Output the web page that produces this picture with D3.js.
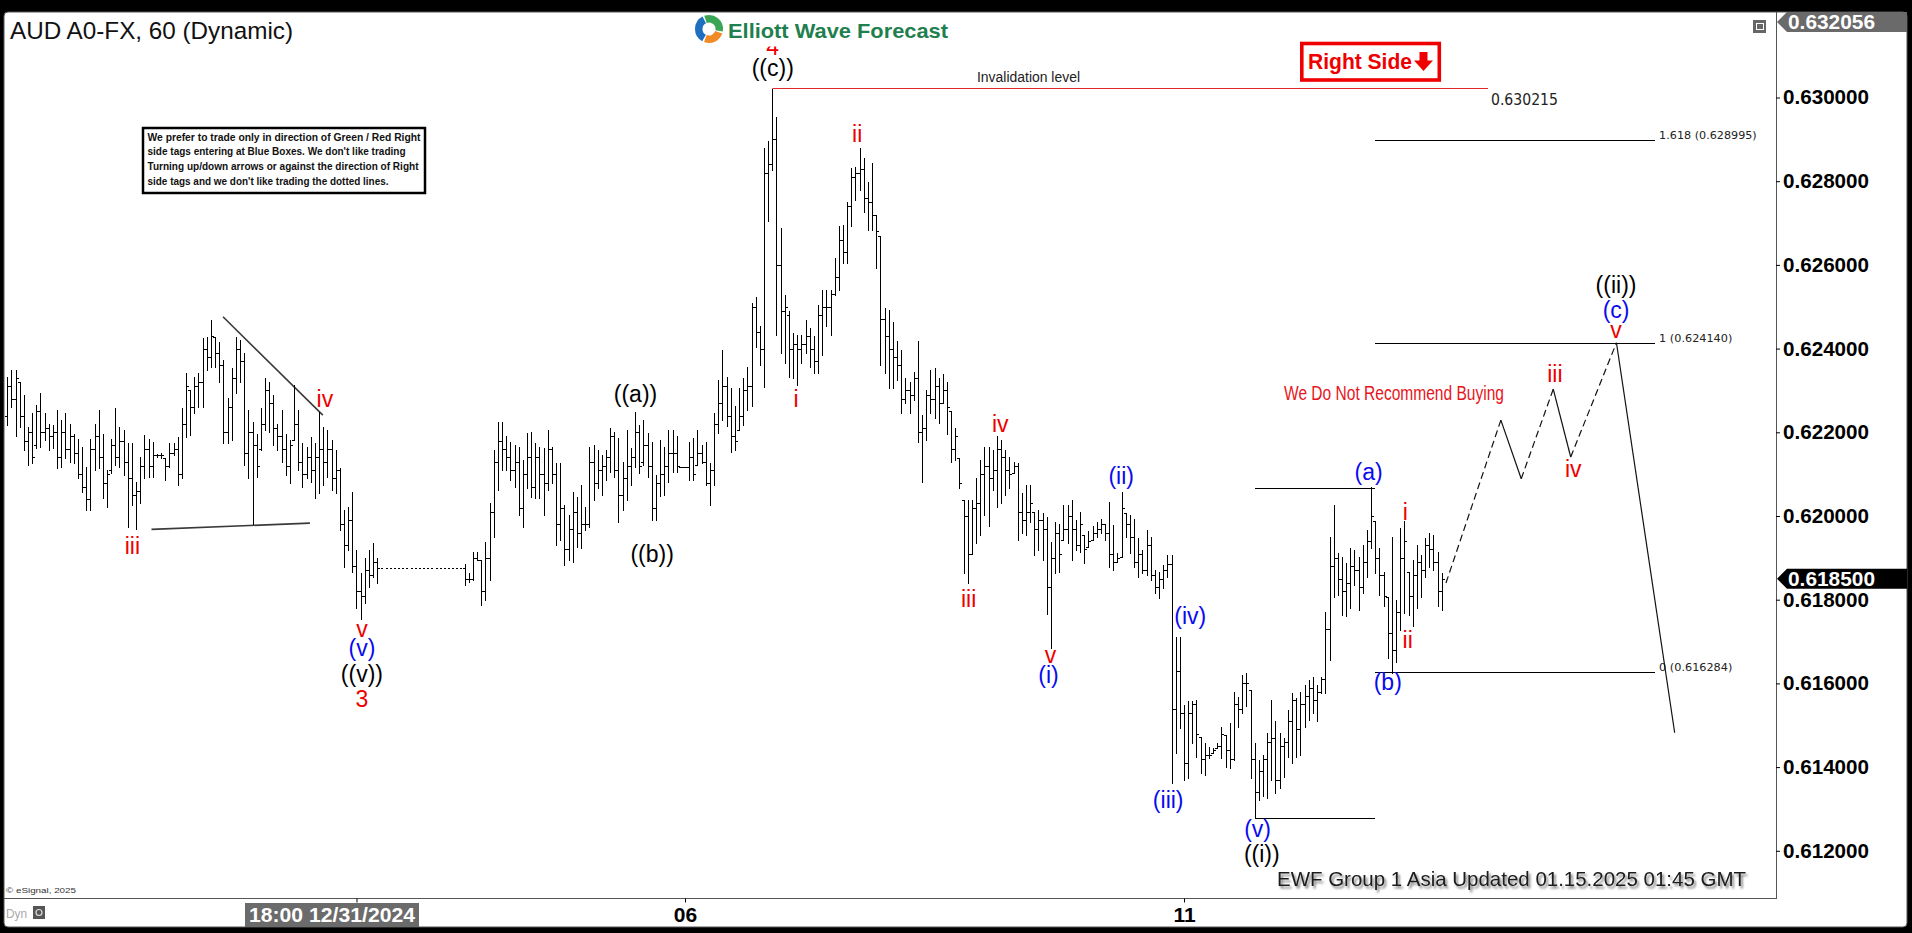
<!DOCTYPE html>
<html><head><meta charset="utf-8">
<script src="https://cdn.jsdelivr.net/npm/d3@7"></script>
<style>
html,body{margin:0;padding:0;background:#000;overflow:hidden}
svg{display:block}
text{font-family:"Liberation Sans",Arial,sans-serif}
</style></head><body>
<svg id="chart" width="1912" height="933"></svg>
<script>
// ---------------- DATA (prices in pips: price x 10000) ----------------
const highs = [
6233.2,6234.8,6234.9,6232.1,6228.9,6221.3,6224.5,6226.5,6229.3,6224.5,
6222.1,6221.7,6225.3,6222.9,6224.5,6222.1,6219.7,6218.5,6216.6,6211.8,
6218.5,6222.1,6225.3,6219.7,6211.0,6218.5,6225.7,6221.3,6220.5,6217.4,
6217.4,6208.2,6214.2,6219.3,6218.5,6217.8,6214.8,6215.0,6213.8,6217.4,
6217.4,6218.9,6225.7,6234.1,6230.1,6233.3,6234.1,6242.5,6242.8,6246.8,
6242.8,6241.6,6237.3,6228.1,6235.3,6242.8,6242.0,6238.9,6225.3,6222.5,
6219.7,6225.7,6232.9,6232.1,6228.9,6222.1,6225.3,6219.7,6218.1,6231.3,
6225.3,6217.4,6216.6,6218.9,6217.4,6224.9,6221.3,6220.5,6218.1,6215.8,
6211.4,6201.4,6202.2,6205.8,6191.9,6186.3,6189.9,6191.9,6193.5,6189.9,
6187.5,6187.5,6187.5,6187.5,6187.5,6187.5,6187.5,6187.5,6187.5,6187.5,
6187.5,6187.5,6187.5,6187.5,6187.5,6187.5,6187.5,6187.5,6187.5,6187.5,
6188.6,6186.3,6191.5,6191.5,6189.5,6193.9,6203.0,6215.8,6222.5,6222.5,
6219.1,6217.8,6217.0,6216.6,6213.4,6219.8,6220.1,6217.4,6216.6,6216.2,
6220.5,6216.6,6212.6,6212.6,6202.6,6200.2,6205.8,6204.6,6207.4,6202.2,
6216.6,6217.0,6215.8,6214.6,6215.8,6221.0,6220.1,6218.6,6213.0,6220.5,
6216.2,6224.9,6221.7,6223.0,6219.8,6217.8,6209.8,6218.2,6216.6,6220.6,
6220.6,6219.0,6211.8,6211.8,6217.8,6218.6,6220.6,6217.0,6217.8,6212.6,
6224.6,6232.5,6239.7,6233.3,6230.5,6226.2,6230.5,6232.9,6235.7,6250.9,
6252.4,6245.3,6287.9,6289.5,6302.0,6295.4,6268.8,6252.8,6248.9,6243.7,
6243.3,6243.3,6246.9,6244.9,6242.9,6250.4,6254.0,6254.0,6254.0,6261.6,
6269.2,6269.6,6275.1,6283.1,6283.5,6287.9,6285.5,6279.9,6284.3,6271.9,
6266.8,6249.6,6249.2,6246.4,6241.7,6239.7,6232.9,6232.1,6234.5,6241.7,
6224.2,6230.1,6234.9,6235.3,6232.9,6234.0,6232.0,6225.0,6221.0,6213.8,
6203.8,6203.8,6203.8,6209.0,6213.4,6216.6,6216.6,6215.8,6219.0,6218.2,
6215.8,6214.2,6213.0,6212.6,6205.4,6207.4,6207.4,6201.0,6201.4,6200.6,
6199.8,6193.9,6198.6,6198.2,6202.6,6202.6,6203.8,6199.0,6201.0,6195.5,
6196.3,6197.5,6198.6,6199.4,6198.2,6203.4,6197.9,6191.1,6205.8,6200.6,
6200.2,6199.4,6194.7,6191.9,6196.7,6195.1,6187.1,6186.7,6188.3,6190.7,
6190.7,6171.2,6171.2,6154.9,6155.7,6155.7,6156.1,6147.3,6145.7,6144.9,
6144.5,6145.7,6149.7,6147.7,6150.5,6158.0,6156.8,6162.0,6162.4,6158.4,
6145.7,6141.7,6142.9,6148.1,6156.0,6150.9,6148.1,6146.9,6153.7,6157.6,
6156.4,6158.0,6159.6,6160.8,6161.6,6159.6,6161.6,6177.1,6195.1,6202.6,
6191.1,6190.3,6188.7,6192.3,6191.9,6190.3,6193.1,6196.7,6207.0,6198.7,
6192.3,6186.7,6180.7,6195.1,6179.9,6197.1,6198.7,6186.7,6189.5,6193.1,
6190.7,6194.7,6195.9,6195.5,6191.5,6186.3];

const lows = [
6221.7,6226.1,6219.0,6221.3,6215.8,6212.2,6212.6,6216.2,6216.6,6218.2,
6215.8,6216.2,6211.4,6211.8,6213.8,6212.9,6212.6,6209.0,6205.8,6201.4,
6201.4,6211.0,6211.4,6204.2,6202.2,6210.2,6212.2,6211.8,6209.8,6197.4,
6202.6,6197.0,6203.0,6209.0,6209.4,6209.4,6214.0,6213.8,6208.6,6211.8,
6214.6,6207.4,6209.0,6218.9,6219.3,6224.5,6226.1,6226.1,6234.9,6235.7,
6235.7,6232.1,6217.4,6217.4,6218.1,6229.3,6232.1,6212.2,6209.0,6198.2,
6209.4,6215.8,6220.5,6220.1,6216.9,6215.8,6213.0,6209.8,6207.8,6218.1,
6211.0,6207.0,6209.0,6208.2,6204.2,6205.4,6207.4,6209.4,6206.2,6205.4,
6196.6,6187.9,6191.9,6186.7,6177.9,6175.5,6179.1,6183.1,6185.5,6183.9,
6187.5,6187.5,6187.5,6187.5,6187.5,6187.5,6187.5,6187.5,6187.5,6187.5,
6187.5,6187.5,6187.5,6187.5,6187.5,6187.5,6187.5,6187.5,6187.5,6187.5,
6183.5,6184.3,6184.7,6189.5,6178.7,6180.0,6184.7,6195.1,6206.2,6211.0,
6211.0,6208.6,6207.0,6200.2,6197.4,6206.6,6204.6,6204.2,6204.2,6200.2,
6206.2,6207.8,6193.1,6194.3,6188.3,6189.5,6189.1,6192.7,6192.3,6196.6,
6197.4,6203.8,6206.6,6205.0,6208.6,6210.6,6209.4,6198.6,6201.4,6203.8,
6207.4,6211.8,6210.2,6212.2,6209.4,6199.1,6199.1,6204.7,6205.1,6208.2,
6210.6,6210.6,6211.7,6211.7,6208.6,6208.6,6212.2,6212.6,6207.4,6202.7,
6207.4,6219.8,6223.0,6221.4,6215.4,6215.8,6220.6,6221.8,6225.4,6226.2,
6240.5,6236.1,6230.9,6270.4,6282.7,6243.3,6238.9,6236.5,6233.3,6232.9,
6231.3,6236.5,6238.9,6235.7,6234.1,6234.1,6238.5,6245.3,6243.3,6252.8,
6254.0,6260.4,6260.4,6269.2,6275.5,6277.9,6272.7,6268.4,6268.4,6259.2,
6236.1,6234.1,6230.5,6230.5,6232.5,6224.6,6227.0,6224.6,6227.8,6217.8,
6208.2,6218.2,6224.6,6223.4,6222.2,6227.0,6219.5,6213.0,6213.4,6206.6,
6186.3,6183.9,6191.1,6193.5,6195.5,6200.2,6197.5,6206.2,6202.2,6203.0,
6205.0,6206.6,6210.2,6194.3,6195.9,6195.5,6198.6,6190.7,6191.9,6189.5,
6176.7,6168.4,6186.3,6186.7,6194.3,6193.5,6189.5,6191.9,6191.5,6188.7,
6192.7,6194.3,6195.1,6195.9,6194.3,6187.9,6187.1,6189.1,6190.3,6195.1,
6191.1,6187.9,6185.5,6186.3,6185.9,6184.7,6181.5,6180.3,6182.7,6185.5,
6136.1,6143.3,6149.3,6136.9,6137.3,6145.7,6142.5,6138.5,6138.1,6142.1,
6143.3,6144.5,6142.1,6140.1,6139.7,6141.7,6149.7,6152.9,6154.5,6137.3,
6127.8,6132.2,6133.0,6132.6,6136.9,6133.8,6134.9,6137.7,6142.5,6140.9,
6142.5,6142.9,6149.7,6151.3,6152.9,6150.9,6157.6,6157.6,6165.6,6180.7,
6181.1,6176.4,6176.0,6178.0,6183.5,6177.6,6181.5,6185.5,6192.3,6186.3,
6181.1,6178.4,6166.0,6162.6,6165.2,6172.8,6176.8,6176.4,6173.6,6178.0,
6180.7,6185.5,6187.9,6187.1,6178.4,6177.6];

const opens = [
6224,6231,6228,6232,6224,6218,6220,6217,6225,6220,
6221,6219,6220,6214,6220,6216,6219,6215,6210,6207,
6204,6216,6219,6214,6208,6211,6217,6214,6218,6213,
6209,6205,6206,6212,6216,6212,6214.5,6214.5,6213.8,6212,
6215,6216,6210,6222,6230,6226,6231,6232,6240,6238,
6242.8,6239,6236,6220,6226,6233,6240,6237,6215,6220,
6217,6216,6222,6230,6227,6221,6219,6216,6212,6218.1,
6222,6213,6210,6214,6211,6214,6216,6213,6216,6209,
6211,6198,6193,6199,6188,6182,6181,6187,6186,6189,
6187.5,6187.5,6187.5,6187.5,6187.5,6187.5,6187.5,6187.5,6187.5,6187.5,
6187.5,6187.5,6187.5,6187.5,6187.5,6187.5,6187.5,6187.5,6187.5,6187.5,
6187.5,6185,6185,6190,6189.5,6182,6190,6201,6213,6218,
6216,6214,6211,6213,6202,6210,6214,6207,6214,6210,
6208,6216,6210,6198,6202,6192,6197,6201,6196,6198,
6198,6213,6208,6211,6212,6214,6219,6211,6205,6209,
6212,6214,6220,6213,6217,6212,6202,6208,6210,6212,
6215,6215,6211.8,6211.8,6211.8,6214,6212.2,6215,6213,6208,
6211,6222,6227,6231,6224,6219,6220.6,6224,6230,6231,
6250,6244,6240,6282,6284,6290,6260,6249,6248,6240,
6241,6240,6241,6243,6240,6237,6248,6250,6250,6253,
6257,6266,6263,6274,6281,6282,6283,6276,6275,6271.9,
6266.8,6247,6243,6240,6238,6236,6228,6230,6229,6233,
6220,6221,6229,6228,6231,6227,6230,6225,6216,6213.8,
6203.8,6200,6191,6202,6203,6210,6212,6209,6211,6216,
6214,6211,6210.2,6212,6201,6199,6201,6201,6197,6199,
6197,6183,6190,6196,6194.3,6197,6200,6197,6193,6195.5,
6192.7,6194.3,6196,6197,6198,6196,6191,6189.1,6190.3,6200.6,
6198,6195,6189,6191,6187,6193,6186,6183,6185,6187,
6188.5,6154,6163,6153,6141,6153,6155,6147.3,6142,6143,
6143.3,6144.5,6145,6147.7,6144,6142,6155,6154,6160,6158.4,
6142,6134,6139,6142,6146,6147,6137,6145,6146,6151,
6156,6149,6155,6157,6159,6156,6158,6161,6173,6188,
6190,6185,6182,6184,6188,6187,6183,6189,6194,6198.7,
6190,6186,6180.7,6172,6168,6177,6190,6186.7,6181,6186,
6189,6187,6193,6192,6189,6182];

const closes = [
6231,6228,6233,6224,6218,6220,6214,6225,6220,6221,
6219,6220,6214,6220,6216,6219,6215,6210,6207,6204,
6216,6219,6214,6208,6210,6217,6214,6218,6213,6209,
6205,6206,6212,6216,6212,6214.5,6214.5,6214.5,6212,6215,
6216,6210,6222,6231,6226,6231,6232,6240,6238,6243,
6239,6236,6220,6226,6233,6240,6237,6215,6220,6217,
6212,6222,6230,6227,6221,6219,6216,6212,6217,6222,
6213,6210,6214,6211,6214,6216,6213,6216,6209,6211,
6198,6193,6199,6188,6182,6181,6187,6186,6189,6187.5,
6187.5,6187.5,6187.5,6187.5,6187.5,6187.5,6187.5,6187.5,6187.5,6187.5,
6187.5,6187.5,6187.5,6187.5,6187.5,6187.5,6187.5,6187.5,6187.5,6187.5,
6185,6185,6190,6189.5,6182,6190,6201,6213,6218,6216,
6214,6211,6213,6202,6210,6214,6207,6214,6210,6208,
6216,6210,6198,6202,6192,6197,6201,6196,6198,6198,
6213,6208,6211,6212,6214,6219,6211,6205,6209,6212,
6214,6220,6212,6217,6212,6202,6208,6210,6212,6215,
6215,6212,6211.8,6211.8,6214,6210,6215,6213,6208,6211,
6222,6227,6231,6224,6219,6218,6224,6230,6231,6250,
6244,6240,6282,6284,6290,6260,6249,6250,6240,6241,
6240,6241,6243,6240,6237,6248,6250,6250,6253,6257,
6266,6263,6274,6281,6282,6283,6276,6275,6272,6268,
6247,6243,6240,6238,6236,6228,6230,6229,6233,6220,
6221,6229,6228,6231,6227,6230,6226,6216,6219,6208,
6200,6191,6202,6203,6210,6212,6209,6211,6216,6214,
6211,6210,6212,6201,6199,6201,6203,6197,6199,6197,
6183,6190,6196,6191,6197,6200,6197,6193,6198,6192,
6194,6196,6197,6198,6196,6191,6189,6190,6202,6198,
6195,6189,6191,6187,6193,6186,6183,6185,6187,6188.5,
6154,6163,6153,6141,6153,6155,6148,6142,6143,6143,
6144,6145,6148,6144,6142,6155,6154,6160,6160,6142,
6134,6139,6142,6146,6147,6137,6145,6146,6151,6156,
6149,6155,6157,6159,6156,6158,6161,6173,6188,6190,
6185,6182,6184,6188,6187,6183,6189,6194,6200,6190,
6186,6181,6172,6168,6177,6190,6194,6181,6186,6189,
6187,6193,6192,6189,6182,6185];

// axis ticks
const yTicks = [0.612,0.614,0.616,0.618,0.620,0.622,0.624,0.626,0.628,0.630];
const xTickIdx = [84,163,283];
const xTickText = ["18:00 12/31/2024","06","11"];
const lastPrice = 0.6185;
const topPrice = 0.632056;

// wave labels (bar index, price in pips)
const waveText  = ["iii","iv","v","(v)","((v))","3","((a))","((b))","4","((c))","i","ii","iii","iv","v","(i)","(ii)","(iii)","(iv)","(v)","((i))","(a)","i","ii","(b)","iii","iv","((ii))","(c)","v"];
const waveIdx   = [30.1,76.4,85.3,85.3,85.3,85.3,151.1,155.1,184.1,184.1,189.7,204.4,231.2,238.8,250.9,250.4,267.9,279.2,284.5,300.7,301.7,327.4,336.2,336.8,332.0,372.2,376.6,386.9,386.9,386.9];
const wavePip   = [6190.9,6226.0,6171.1,6166.5,6160.3,6154.4,6227.2,6189.0,6310.2,6305.1,6226.0,6289.4,6178.3,6220.1,6164.9,6160.1,6207.6,6130.2,6174.2,6123.4,6117.4,6208.6,6199.0,6168.5,6158.4,6232.0,6209.3,6253.2,6247.2,6242.5];
const waveDegree= ["sub","sub","sub","minuette","minute","minor","minute","minute","minor","minute","sub","sub","sub","sub","sub","minuette","minuette","minuette","minuette","minuette","minute","minuette","sub","sub","minuette","sub","sub","minute","minuette","sub"];

// projected path (bar index, price in pips)
const projIdx = [346,359.2,364.1,371.8,376.0,387.0,401.0];
const projPip = [6184,6222.9,6208.9,6230.3,6214.1,6241.4,6148.2];

// fibonacci extension levels
const fibRatio = ["1.618","1","0"];
const fibPrice = [0.628995,0.624140,0.616284];
const fibStartIdx = 329, fibEndIdx = 396.3;

// invalidation level
const invalPrice = 0.630215, invalStartIdx = 184, invalEndIdx = 356.1;

// (a) high and ((i)) low reference lines
const refLinePip = [6206.6, 6127.8];
const refStartIdx = 300, refEndIdx = 329;

// triangle trend lines [idx1, pip1, idx2, pip2]
const triUpper = [51.9,6247.6,75.9,6224.1];
const triLower = [34.7,6196.8,72.8,6198.3];

const noteLines = ["We prefer to trade only in direction of Green / Red Right",
  "side tags entering at Blue Boxes. We don't like trading",
  "Turning up/down arrows or against the direction of Right",
  "side tags and we don't like trading the dotted lines."];
const noteWidths = [273,258,271,241];

// ---------------- DRAWING ----------------
const svg = d3.select("#chart");
const plot = {left:4, top:12, right:1776, bottom:898};
const x = d3.scaleLinear().domain([0,283]).range([7.2,1184]);
const y = d3.scaleLinear().domain([0.612,0.630]).range([850.8,97.5]);
const P = v => y(v/10000);
const RED = "#ee0000", BLUE = "#0a0af0";
const degColor = {sub:RED, minor:RED, minuette:BLUE, minute:"#000"};

const defs = svg.append("defs");
defs.append("clipPath").attr("id","plotClip").append("rect")
  .attr("x",plot.left).attr("y",plot.top).attr("width",plot.right-plot.left).attr("height",plot.bottom-plot.top);
const f = defs.append("filter").attr("id","shadow").attr("x","-5%").attr("y","-30%").attr("width","110%").attr("height","170%");
f.append("feDropShadow").attr("dx",2).attr("dy",2.5).attr("stdDeviation",1.2).attr("flood-color","#555").attr("flood-opacity",0.75);

// frame
svg.append("rect").attr("width",1912).attr("height",933).attr("fill","#000");
svg.append("rect").attr("x",4).attr("y",12).attr("width",1903).attr("height",915).attr("rx",4)
  .attr("fill","#fff").attr("stroke","#555").attr("stroke-width",1);

function T(g, s, xx, yy, o){
  o = o || {};
  const t = g.append("text").attr("x",xx).attr("y",yy).text(s)
    .attr("font-size",o.size||14).attr("fill",o.fill||"#000")
    .attr("text-anchor",o.anchor||"start");
  if(o.weight) t.attr("font-weight",o.weight);
  if(o.family) t.style("font-family",o.family);
  if(o.len) t.attr("textLength",o.len).attr("lengthAdjust","spacingAndGlyphs");
  if(o.filter) t.attr("filter",o.filter);
  return t;
}

const gp = svg.append("g").attr("clip-path","url(#plotClip)");

// triangle lines
[triUpper,triLower].forEach(l=>{
  gp.append("line").attr("x1",x(l[0])).attr("y1",P(l[1])).attr("x2",x(l[2])).attr("y2",P(l[3]))
    .attr("stroke","#3a3a3a").attr("stroke-width",1.6);
});

// bars (flat holiday bars get short ticks -> dashed look)
const barPath = highs.map((h,i)=>{
  const xi = Math.round(x(i))+0.5;
  const yh = Math.round(P(h)), yl = Math.round(P(lows[i]));
  const yo = Math.round(P(opens[i]))+0.5, yc = Math.round(P(closes[i]))+0.5;
  const tk = (h === lows[i]) ? 1 : 2.5;
  const v = (h === lows[i]) ? "" : `M${xi},${yh}V${yl+1}`;
  return `${v}M${xi-tk},${yo}H${xi}M${xi},${yc}H${xi+tk}`;
}).join("");
gp.append("path").attr("d",barPath).attr("fill","none").attr("stroke","#000")
  .attr("stroke-width",1).attr("shape-rendering","crispEdges");

// invalidation line
gp.append("line").attr("x1",x(invalStartIdx)).attr("x2",x(invalEndIdx))
  .attr("y1",y(invalPrice)).attr("y2",y(invalPrice)).attr("stroke","#e02828").attr("stroke-width",1.2);
T(gp,"Invalidation level",977,82,{size:14,fill:"#222",len:103});
T(gp,d3.format(".6f")(invalPrice),x(invalEndIdx)+3,105,{size:15,fill:"#222",len:67,family:"'DejaVu Sans',sans-serif"});

// fib lines
fibPrice.forEach((p,k)=>{
  const yy = Math.round(y(p))+0.5;
  gp.append("line").attr("x1",x(fibStartIdx)).attr("x2",x(fibEndIdx)).attr("y1",yy).attr("y2",yy)
    .attr("stroke","#000").attr("stroke-width",1).attr("shape-rendering","crispEdges");
  const s = `${fibRatio[k]} (${d3.format(".6f")(p)})`;
  T(gp,s,x(fibEndIdx)+4,yy-1.5,{size:10.5,fill:"#222",len:s.length*6.1,family:"'DejaVu Sans',sans-serif"});
});

// reference lines (a) high / ((i)) low
refLinePip.forEach(p=>{
  const yy = Math.round(P(p))+0.5;
  gp.append("line").attr("x1",x(refStartIdx)).attr("x2",x(refEndIdx)).attr("y1",yy).attr("y2",yy)
    .attr("stroke","#000").attr("stroke-width",1).attr("shape-rendering","crispEdges");
});

// projected path
for(let k=0;k<projIdx.length-1;k++){
  const up = projPip[k+1] > projPip[k];
  gp.append("line").attr("x1",x(projIdx[k])).attr("y1",P(projPip[k]))
    .attr("x2",x(projIdx[k+1])).attr("y2",P(projPip[k+1]))
    .attr("stroke","#111").attr("stroke-width",1.2)
    .attr("stroke-dasharray", up ? "7,4" : null);
}

// wave labels
waveText.forEach((s,k)=>{
  T(gp,s,x(waveIdx[k]),P(wavePip[k]),{size:23,fill:degColor[waveDegree[k]],anchor:"middle"});
});

T(gp,"We Do Not Recommend Buying",1284,400,{size:20,fill:"#e8141c",len:220});

// note box
svg.append("rect").attr("x",143).attr("y",128).attr("width",282).attr("height",65)
  .attr("fill","#fff").attr("stroke","#000").attr("stroke-width",2.5);
noteLines.forEach((s,k)=>T(svg,s,147.5,140.5+k*14.9,{size:11.5,weight:"bold",fill:"#111",len:noteWidths[k]}));

// logo
svg.append("rect").attr("x",688).attr("y",13).attr("width",272).attr("height",33.5).attr("fill","#fff");
const logo = svg.append("g").attr("transform","translate(709,29)");
const arc = d3.arc().innerRadius(6.5).outerRadius(14);
[[-0.35,1.75,"#3aa655"],[1.9,3.5,"#f08a24"],[3.65,5.8,"#1f6fc0"]].forEach(a=>{
  logo.append("path").attr("d",arc({startAngle:a[0],endAngle:a[1]})).attr("fill",a[2]);
});
T(svg,"Elliott Wave Forecast",728,37.5,{size:21,weight:"bold",fill:"#1f7f4f",len:220});

// Right side box
svg.append("rect").attr("x",1301.8).attr("y",43.5).attr("width",137.5).attr("height",36.5)
  .attr("fill","#fff").attr("stroke",RED).attr("stroke-width",3.6);
T(svg,"Right Side",1308,69,{size:22,weight:"bold",fill:RED,len:104});
svg.append("rect").attr("x",1419.5).attr("y",52).attr("width",8).attr("height",10).attr("fill",RED);
svg.append("path").attr("d","M1414,60.5L1433,60.5L1423.5,71Z").attr("fill",RED);

// title
T(svg,"AUD A0-FX, 60 (Dynamic)",10,39,{size:24.5,fill:"#111",len:283});

// footer text
T(svg,"EWF Group 1 Asia Updated 01.15.2025 01:45 GMT",1277,886,{size:21,fill:"#1a1a1a",len:469,filter:"url(#shadow)"});
T(svg,"© eSignal, 2025",6,893,{size:8,fill:"#333",len:70});

// plot borders
svg.append("line").attr("x1",plot.left).attr("x2",plot.right).attr("y1",plot.bottom+0.5).attr("y2",plot.bottom+0.5)
  .attr("stroke","#555").attr("stroke-width",1);
svg.append("line").attr("x1",plot.right+0.5).attr("x2",plot.right+0.5).attr("y1",plot.top).attr("y2",plot.bottom+1)
  .attr("stroke","#555").attr("stroke-width",1);

// small window icon
svg.append("rect").attr("x",1753).attr("y",20).attr("width",13).attr("height",13).attr("fill","#666");
svg.append("rect").attr("x",1756.5).attr("y",23.5).attr("width",7).attr("height",6).attr("fill","none").attr("stroke","#fff").attr("stroke-width",1);

// y axis
const yAxis = d3.axisRight(y).tickValues(yTicks).tickFormat(d3.format(".6f")).tickSize(4).tickPadding(3);
const gy = svg.append("g").attr("transform",`translate(${plot.right},0)`).call(yAxis);
gy.select(".domain").remove();
gy.selectAll("line").attr("stroke","#000");
gy.selectAll("text").attr("font-size",20).attr("font-weight","bold").attr("fill","#000")
  .style("font-family","'Liberation Sans',Arial,sans-serif")
  .attr("textLength",86).attr("lengthAdjust","spacingAndGlyphs");

// top value box
svg.append("path").attr("d","M1777,22L1787,12L1907,12L1907,32L1787,32Z").attr("fill","#6a6a6a");
T(svg,d3.format(".6f")(topPrice),1788,29,{size:20,weight:"bold",fill:"#fff",len:87});

// last price box
const ly = y(lastPrice);
svg.append("path").attr("d",`M1777,${ly}L1787,${ly-10}L1907,${ly-10}L1907,${ly+10}L1787,${ly+10}Z`).attr("fill","#000");
T(svg,d3.format(".6f")(lastPrice),1788,ly+7.5,{size:20,weight:"bold",fill:"#fff",len:87});

// x axis
const xAxis = d3.axisBottom(x).tickValues(xTickIdx).tickFormat((d,i)=>xTickText[i]).tickSize(4).tickPadding(5);
const gx = svg.append("g").attr("transform",`translate(0,${plot.bottom+0.5})`).call(xAxis);
gx.select(".domain").remove();
gx.selectAll("line").attr("stroke","#000");
gx.selectAll("text").attr("font-size",21).attr("font-weight","bold").attr("fill","#000")
  .style("font-family","'Liberation Sans',Arial,sans-serif");
const first = gx.select(".tick");
first.select("text").attr("x",-25).attr("fill","#fff").attr("textLength",166).attr("lengthAdjust","spacingAndGlyphs");
first.insert("rect","text").attr("x",-112).attr("y",4.5).attr("width",174).attr("height",24).attr("fill","#6b6b6b");

// Dyn label & icon
T(svg,"Dyn",6,918,{size:12,fill:"#aaa",len:21});
svg.append("rect").attr("x",33).attr("y",906).attr("width",12).attr("height",13).attr("fill","#555");
svg.append("circle").attr("cx",39).attr("cy",912.5).attr("r",3).attr("fill","none").attr("stroke","#ddd").attr("stroke-width",1.2);
</script></body></html>
